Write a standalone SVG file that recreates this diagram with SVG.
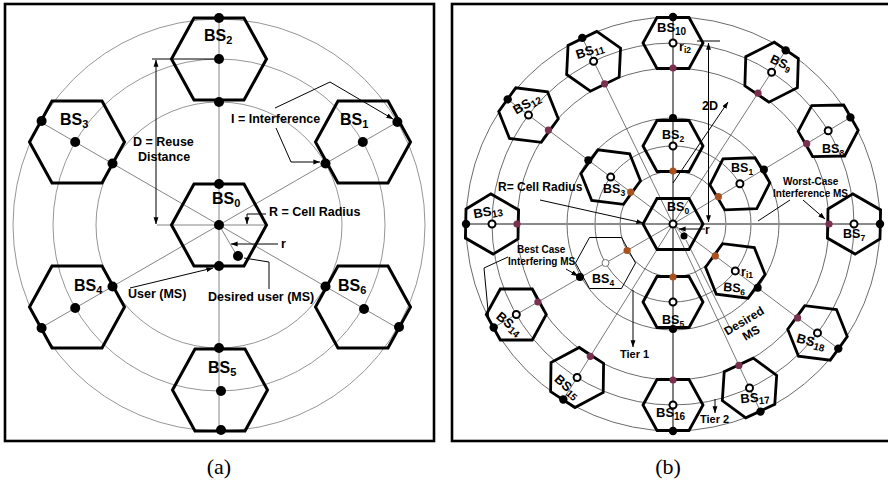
<svg xmlns="http://www.w3.org/2000/svg" xmlns:xlink="http://www.w3.org/1999/xlink" width="888" height="484" viewBox="0 0 888 484">
<style>
.frame{fill:none;stroke:#000;stroke-width:2.6}
.ringL{fill:none;stroke:#8a8a8a;stroke-width:0.9}
.ringR{fill:none;stroke:#5a5a5a;stroke-width:0.9}
.ray{stroke:#777;stroke-width:0.9;fill:none}
.rayR{stroke:#555;stroke-width:0.8;fill:none}
.axis{stroke:#8a8a8a;stroke-width:1.8}
.hexL{fill:none;stroke:#000;stroke-width:3}
.hexR{fill:none;stroke:#000;stroke-width:2.8}
.hexT{fill:none;stroke:#000;stroke-width:1}
.dot{fill:#000}
.hol{fill:#fff;stroke:#000;stroke-width:2}
.holT{fill:#fff;stroke:#777;stroke-width:1}
.org{fill:#a9521f}
.pur{fill:#7a3150}
.lead{fill:none;stroke:#000;stroke-width:1}
text{font-family:"Liberation Sans",Arial,sans-serif;font-weight:bold;fill:#000}
.bsL{font-size:16px}
.sL{font-size:11px}
.bsR{font-size:12.5px}
.sR{font-size:8.5px}
.bsR2{font-size:13px}
.sR2{font-size:10px}
.t12{font-size:12.5px}
.t10{font-size:10px}
.cap{font-family:"Liberation Serif","Times New Roman",serif;font-weight:normal;font-size:22px}
</style>
<defs>
<polygon id="hL" points="-47.5,0 -25,-41 25,-41 47.5,0 25,41 -25,41"/>
<polygon id="hR" points="-30,0 -16,-25.5 16,-25.5 30,0 16,25.5 -16,25.5"/>
<marker id="arr" viewBox="0 0 10 10" refX="9.5" refY="5" markerWidth="7" markerHeight="7" markerUnits="userSpaceOnUse" orient="auto-start-reverse">
<path d="M0,1.5 L10,5 L0,8.5 Z" fill="#000"/>
</marker>
</defs>

<!-- frames -->
<rect class="frame" x="5" y="4" width="429" height="437"/>
<rect class="frame" x="452" y="4" width="440" height="437"/>

<!-- ===== Panel (a) background rings ===== -->
<g id="rings-a">
<circle class="ringL" cx="219" cy="225" r="123"/>
<circle class="ringL" cx="219" cy="225" r="166"/>
<circle class="ringL" cx="219" cy="225" r="206"/>
</g>

<!-- ===== Panel (b) background rings ===== -->
<g id="rings-b">
<circle class="ringR" cx="673" cy="224" r="53"/>
<circle class="ringR" cx="673" cy="224" r="78"/>
<circle class="ringR" cx="673" cy="224" r="106"/>
<circle class="ringR" cx="673" cy="224" r="156"/>
<circle class="ringR" cx="673" cy="224" r="181"/>
<circle class="ringR" cx="673" cy="224" r="207"/>
</g>

<!-- ===== connectors ===== -->
<g id="connectors">
<!-- panel a rays -->
<line class="ray" x1="219" y1="225" x2="219" y2="19"/>
<line class="ray" x1="219" y1="225" x2="219" y2="431"/>
<line class="ray" x1="219" y1="225" x2="397.4" y2="122"/>
<line class="ray" x1="219" y1="225" x2="40.6" y2="122"/>
<line class="ray" x1="219" y1="225" x2="40.6" y2="328"/>
<line class="ray" x1="219" y1="225" x2="397.4" y2="328"/>
<line class="ray" x1="157" y1="225" x2="266" y2="225"/>
<line class="ray" x1="219" y1="225" x2="236" y2="254"/>
<!-- D dimension -->
<line class="lead" x1="156" y1="60" x2="156" y2="224" marker-start="url(#arr)" marker-end="url(#arr)"/>
<line class="lead" x1="152" y1="59" x2="214" y2="59"/>
<!-- R leader -->
<polyline class="lead" points="266,214 247,214 247,224" marker-end="url(#arr)"/>
<!-- r leader -->
<line class="lead" x1="278" y1="244" x2="231" y2="244" marker-end="url(#arr)"/>
<!-- desired user leader -->
<polyline class="lead" points="244,258 269,262 269,289"/>
<!-- user leader -->
<line class="lead" x1="130" y1="288" x2="213" y2="268" marker-end="url(#arr)"/>
<!-- interference leaders -->
<polyline class="lead" points="275,108 330,82 393,119" marker-end="url(#arr)"/>
<polyline class="lead" points="276,128 291,162 320,162" marker-end="url(#arr)"/>

<!-- panel b rays -->
<line class="axis" x1="466" y1="224" x2="880" y2="224"/>
<line class="lead" x1="673" y1="17" x2="673" y2="431"/>
<line class="rayR" x1="673" y1="224" x2="850.4" y2="117.4"/>
<line class="rayR" x1="673" y1="224" x2="785.7" y2="50.4"/>
<line class="rayR" x1="673" y1="224" x2="582.3" y2="37.9"/>
<line class="rayR" x1="673" y1="224" x2="507.7" y2="99.4"/>
<line class="rayR" x1="673" y1="224" x2="493.7" y2="327.5"/>
<line class="rayR" x1="673" y1="224" x2="563.3" y2="399.5"/>
<line class="rayR" x1="673" y1="224" x2="760.5" y2="411.6"/>
<line class="rayR" x1="673" y1="224" x2="838.3" y2="348.6"/>
<line class="rayR" x1="673" y1="224" x2="683" y2="235"/>
<!-- R arrow -->
<line class="lead" x1="540" y1="200" x2="643" y2="223" marker-end="url(#arr)"/>
<!-- 2D -->
<line class="lead" x1="708.5" y1="43" x2="708.5" y2="222" marker-start="url(#arr)" marker-end="url(#arr)"/>
<line class="lead" x1="697" y1="41" x2="720" y2="41"/>
<line class="lead" x1="673" y1="183" x2="728" y2="102" marker-end="url(#arr)"/>
<!-- r -->
<line class="lead" x1="705" y1="229" x2="679" y2="229" marker-end="url(#arr)"/>
<!-- desired MS -->
<line class="rayR" x1="686" y1="240" x2="729" y2="326"/>
<!-- best case -->
<line class="lead" x1="566" y1="269" x2="578" y2="276" marker-end="url(#arr)"/>
<polyline class="lead" points="508,257 484,268 489,321"/>
<!-- worst case -->
<line class="lead" x1="803" y1="200" x2="825" y2="219" marker-end="url(#arr)"/>
<line class="lead" x1="790" y1="200" x2="758" y2="221"/>
<!-- tiers -->
<line class="lead" x1="633" y1="290" x2="633" y2="347" marker-end="url(#arr)"/>
<line class="lead" x1="715" y1="399" x2="715" y2="413" marker-end="url(#arr)"/>
</g>

<!-- ===== Panel (a) nodes ===== -->
<g id="a-bs0">
<use href="#hL" class="hexL" transform="translate(219,225)"/>
<circle class="dot" cx="219" cy="184" r="5"/>
<circle class="dot" cx="219" cy="225" r="5"/>
<circle class="dot" cx="219" cy="266" r="5"/>
<circle class="dot" cx="238" cy="256" r="5"/>
<text class="bsL" x="212" y="204">BS<tspan class="sL" dy="3">0</tspan></text>
</g>
<g id="a-bs1">
<use href="#hL" class="hexL" transform="translate(363,142)"/>
<circle class="dot" cx="325.5" cy="163.5" r="5"/>
<circle class="dot" cx="362.8" cy="142" r="5"/>
<circle class="dot" cx="397.4" cy="122" r="5"/>
<text class="bsL" x="340" y="125">BS<tspan class="sL" dy="3">1</tspan></text>
</g>
<g id="a-bs2">
<use href="#hL" class="hexL" transform="translate(219,59)"/>
<circle class="dot" cx="219" cy="18" r="5"/>
<circle class="dot" cx="219" cy="59" r="5"/>
<circle class="dot" cx="219" cy="102" r="5"/>
<text class="bsL" x="204" y="41">BS<tspan class="sL" dy="3">2</tspan></text>
</g>
<g id="a-bs3">
<use href="#hL" class="hexL" transform="translate(77,142)"/>
<circle class="dot" cx="112.5" cy="163.5" r="5"/>
<circle class="dot" cx="75.2" cy="142" r="5"/>
<circle class="dot" cx="41.6" cy="121" r="5"/>
<text class="bsL" x="60" y="125">BS<tspan class="sL" dy="3">3</tspan></text>
</g>
<g id="a-bs4">
<use href="#hL" class="hexL" transform="translate(77,307)"/>
<circle class="dot" cx="112.5" cy="286.5" r="5"/>
<circle class="dot" cx="75.2" cy="308" r="5"/>
<circle class="dot" cx="41.6" cy="328" r="5"/>
<text class="bsL" x="74" y="291">BS<tspan class="sL" dy="3">4</tspan></text>
</g>
<g id="a-bs5">
<use href="#hL" class="hexL" transform="translate(220,390)"/>
<circle class="dot" cx="219" cy="348" r="5"/>
<circle class="dot" cx="221" cy="391" r="5"/>
<circle class="dot" cx="221" cy="430" r="5"/>
<text class="bsL" x="208" y="373">BS<tspan class="sL" dy="3">5</tspan></text>
</g>
<g id="a-bs6">
<use href="#hL" class="hexL" transform="translate(363,307)"/>
<circle class="dot" cx="325.5" cy="286.5" r="5"/>
<circle class="dot" cx="364" cy="309" r="5"/>
<circle class="dot" cx="399" cy="327" r="5"/>
<text class="bsL" x="338" y="291">BS<tspan class="sL" dy="3">6</tspan></text>
</g>

<g id="a-labels">
<text class="t12" x="231" y="123">I = Interference</text>
<text class="t12" x="133" y="146">D = Reuse</text>
<text class="t12" x="138" y="161">Distance</text>
<text class="t12" x="269" y="216">R = Cell Radius</text>
<text class="t12" x="281" y="248">r</text>
<text class="t12" x="128" y="298">User (MS)</text>
<text class="t12" x="208" y="301">Desired user (MS)</text>
</g>

<!-- ===== Panel (b) nodes ===== -->
<g id="b-bs0">
<use href="#hR" class="hexR" transform="translate(673,224)"/>
<circle class="hol" cx="673" cy="224" r="3.5"/>
<circle class="dot" cx="684" cy="236" r="3.5"/>
<text class="bsR" x="667" y="211">BS<tspan class="sR" dy="2.5">0</tspan></text>
</g>
<g id="b-bs1">
<use href="#hR" class="hexR" transform="translate(739.9,183.8) rotate(-2)"/>
<circle class="org" cx="718.4" cy="196.7" r="3.6"/>
<circle class="hol" cx="739.9" cy="183.8" r="3.5"/>
<circle class="dot" cx="763.9" cy="169.4" r="4"/>
<text class="bsR" x="731" y="172">BS<tspan class="sR" dy="2.5">1</tspan></text>
</g>
<g id="b-bs2">
<use href="#hR" class="hexR" transform="translate(673,146)"/>
<circle class="org" cx="673" cy="171" r="3.6"/>
<circle class="hol" cx="673" cy="146" r="3.5"/>
<circle class="dot" cx="673" cy="118" r="4"/>
<text class="bsR" x="662" y="139">BS<tspan class="sR" dy="2.5">2</tspan></text>
</g>
<g id="b-bs3">
<use href="#hR" class="hexR" transform="translate(610.7,177.1) rotate(7)"/>
<circle class="org" cx="630.7" cy="192.1" r="3.6"/>
<circle class="hol" cx="610.7" cy="177.1" r="3.5"/>
<circle class="dot" cx="588.3" cy="160.2" r="4"/>
<text class="bsR" x="603" y="193">BS<tspan class="sR" dy="2.5">3</tspan></text>
</g>
<g id="b-bs4">
<use href="#hR" class="hexT" transform="translate(605.5,263)"/>
<circle class="org" cx="627.1" cy="250.5" r="3.6"/>
<circle class="holT" cx="605.5" cy="263" r="3.5"/>
<circle class="dot" cx="580" cy="277" r="4"/>
<text class="bsR" x="592" y="283">BS<tspan class="sR" dy="2.5">4</tspan></text>
</g>
<g id="b-bs5">
<use href="#hR" class="hexR" transform="translate(673,302)"/>
<circle class="org" cx="673" cy="277" r="3.6"/>
<circle class="hol" cx="673" cy="302" r="3.5"/>
<circle class="dot" cx="673" cy="329" r="4"/>
<text class="bsR" x="662" y="324">BS<tspan class="sR" dy="2.5">5</tspan></text>
</g>
<g id="b-bs6">
<use href="#hR" class="hexR" transform="translate(735.3,270.9) rotate(7)"/>
<circle class="org" cx="715.3" cy="255.9" r="3.6"/>
<circle class="hol" cx="735.3" cy="270.9" r="3.5"/>
<circle class="dot" cx="757.7" cy="287.8" r="4"/>
<text class="bsR" transform="translate(723,291) rotate(5)">BS<tspan class="sR" dy="2.5">6</tspan></text>
<text class="bsR" x="741" y="276">r<tspan class="sR" dy="2">i1</tspan></text>
</g>
<g id="b-bs7">
<use href="#hR" class="hexR" transform="translate(854,224) rotate(30)"/>
<circle class="pur" cx="829" cy="224" r="3.6"/>
<circle class="hol" cx="854" cy="224" r="3.5"/>
<circle class="dot" cx="880" cy="224" r="4.2"/>
<text class="bsR" x="843" y="238">BS<tspan class="sR" dy="2.5">7</tspan></text>
</g>
<g id="b-bs8">
<use href="#hR" class="hexR" transform="translate(828.2,130.8) rotate(-1)"/>
<circle class="pur" cx="806.7" cy="143.7" r="3.6"/>
<circle class="hol" cx="828.2" cy="130.8" r="3.5"/>
<circle class="dot" cx="850.4" cy="117.4" r="4.2"/>
<text class="bsR" x="822" y="153">BS<tspan class="sR" dy="2.5">8</tspan></text>
</g>
<g id="b-bs9">
<use href="#hR" class="hexR" transform="translate(771.6,72.2) rotate(-27)"/>
<circle class="pur" cx="758" cy="93.2" r="3.6"/>
<circle class="hol" cx="771.6" cy="72.2" r="3.5"/>
<circle class="dot" cx="785.7" cy="50.4" r="4.2"/>
<text class="bsR" text-anchor="middle" transform="translate(781,63) rotate(25)" y="4">BS<tspan class="sR" dy="2.5">9</tspan></text>
</g>
<g id="b-bs10">
<use href="#hR" class="hexR" transform="translate(673,43)"/>
<circle class="pur" cx="673" cy="68" r="3.6"/>
<circle class="hol" cx="673" cy="43" r="3.5"/>
<circle class="dot" cx="673" cy="17" r="4.2"/>
<text class="bsR2" x="657" y="32">BS<tspan class="sR2" dy="2.5">10</tspan></text>
<text class="bsR" x="679" y="51">r<tspan class="sR" dy="2">i2</tspan></text>
</g>
<g id="b-bs11">
<use href="#hR" class="hexR" transform="translate(593.6,61.3) rotate(-26)"/>
<circle class="pur" cx="604.6" cy="83.8" r="3.6"/>
<circle class="hol" cx="593.6" cy="61.3" r="3.5"/>
<circle class="dot" cx="582.3" cy="37.9" r="4.2"/>
<text class="bsR2" text-anchor="middle" transform="translate(590,51) rotate(-18)" y="4">BS<tspan class="sR2" dy="2.5">11</tspan></text>
</g>
<g id="b-bs12">
<use href="#hR" class="hexR" transform="translate(528.5,115.1) rotate(7)"/>
<circle class="pur" cx="548.4" cy="130.1" r="3.6"/>
<circle class="hol" cx="528.5" cy="115.1" r="3.5"/>
<circle class="dot" cx="507.7" cy="99.4" r="4.2"/>
<text class="bsR2" text-anchor="middle" transform="translate(527,104) rotate(-30)" y="4">BS<tspan class="sR2" dy="2.5">12</tspan></text>
</g>
<g id="b-bs13">
<use href="#hR" class="hexR" transform="translate(492,224) rotate(30)"/>
<circle class="pur" cx="517" cy="224" r="3.6"/>
<circle class="hol" cx="492" cy="224" r="3.5"/>
<circle class="dot" cx="466" cy="224" r="4.2"/>
<text class="bsR2" text-anchor="middle" transform="translate(488,212) rotate(-10)" y="4">BS<tspan class="sR2" dy="2.5">13</tspan></text>
</g>
<g id="b-bs14">
<use href="#hR" class="hexR" transform="translate(516.3,314.5)"/>
<circle class="pur" cx="537.9" cy="302" r="3.6"/>
<circle class="hol" cx="516.3" cy="314.5" r="3.5"/>
<circle class="dot" cx="493.7" cy="327.5" r="4.2"/>
<text class="bsR2" text-anchor="middle" transform="translate(509,324) rotate(40)" y="4">BS<tspan class="sR2" dy="2.5">14</tspan></text>
</g>
<g id="b-bs15">
<use href="#hR" class="hexR" transform="translate(577.1,377.5) rotate(-28)"/>
<circle class="pur" cx="590.3" cy="356.3" r="3.6"/>
<circle class="hol" cx="577.1" cy="377.5" r="3.5"/>
<circle class="dot" cx="563.3" cy="399.5" r="4.2"/>
<text class="bsR2" text-anchor="middle" transform="translate(567,387) rotate(42)" y="4">BS<tspan class="sR2" dy="2.5">15</tspan></text>
</g>
<g id="b-bs16">
<use href="#hR" class="hexR" transform="translate(673,405)"/>
<circle class="pur" cx="673" cy="380" r="3.6"/>
<circle class="hol" cx="673" cy="405" r="3.5"/>
<circle class="dot" cx="673" cy="431" r="4.2"/>
<text class="bsR2" x="656" y="417">BS<tspan class="sR2" dy="2.5">16</tspan></text>
</g>
<g id="b-bs17">
<use href="#hR" class="hexR" transform="translate(749.5,388) rotate(-25)"/>
<circle class="pur" cx="738.9" cy="365.4" r="3.6"/>
<circle class="hol" cx="749.5" cy="388" r="3.5"/>
<circle class="dot" cx="760.5" cy="411.6" r="4.2"/>
<text class="bsR2" text-anchor="middle" transform="translate(755,398) rotate(-5)" y="4">BS<tspan class="sR2" dy="2.5">17</tspan></text>
</g>
<g id="b-bs18">
<use href="#hR" class="hexR" transform="translate(817.5,332.9) rotate(7)"/>
<circle class="pur" cx="797.6" cy="317.9" r="3.6"/>
<circle class="hol" cx="817.5" cy="332.9" r="3.5"/>
<circle class="dot" cx="838.3" cy="348.6" r="4.2"/>
<text class="bsR2" text-anchor="middle" transform="translate(811,342) rotate(15)" y="4">BS<tspan class="sR2" dy="2.5">18</tspan></text>
</g>

<g id="b-labels">
<text style="font-size:12px" x="498" y="191">R= Cell Radius</text>
<text style="font-size:12.5px" x="702" y="110">2D</text>
<text style="font-size:12px" x="705" y="234">r</text>
<text class="t10" x="783" y="185">Worst-Case</text>
<text class="t10" x="773" y="197">Interference MS</text>
<text class="t10" x="517" y="253">Best Case</text>
<text class="t10" x="508" y="265">Interfering MS</text>
<text style="font-size:11px" x="620" y="358">Tier 1</text>
<text style="font-size:11px" x="700" y="423">Tier 2</text>
<g transform="translate(744,321) rotate(-31)">
<text style="font-size:12px" text-anchor="middle" x="0" y="4">Desired</text>
<text style="font-size:12px" text-anchor="middle" x="0" y="18">MS</text>
</g>
</g>

<text class="cap" x="219" y="474" text-anchor="middle">(a)</text>
<text class="cap" x="668" y="474" text-anchor="middle">(b)</text>
</svg>
